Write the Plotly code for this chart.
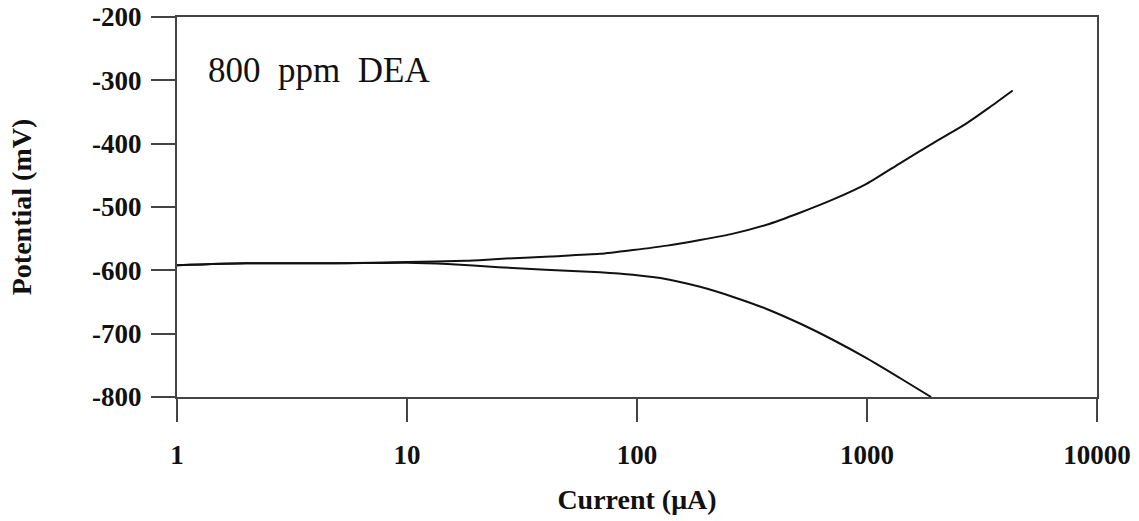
import plotly.graph_objects as go

# Anodic (upper) branch
anodic_current = [1, 2, 5, 10, 18, 25, 42, 69, 96, 135, 188, 262, 366, 511, 713, 1000, 1390, 1940, 2710, 3400, 4300]
anodic_potential = [-592, -589, -589, -587, -585, -582, -578, -574, -568, -561, -552, -542, -528, -509, -488, -463, -431, -399, -368, -343, -316]

# Cathodic (lower) branch
cathodic_current = [1, 2, 5, 10, 15, 25, 40, 69, 96, 135, 188, 262, 366, 511, 713, 1000, 1390, 1900]
cathodic_potential = [-592, -589, -589, -588, -590, -595, -599, -603, -607, -614, -626, -642, -661, -684, -710, -739, -770, -800]

x_ticks = [1, 10, 100, 1000, 10000]
x_tick_labels = ["1", "10", "100", "1000", "10000"]
y_ticks = [-800, -700, -600, -500, -400, -300, -200]
y_tick_labels = ["-800", "-700", "-600", "-500", "-400", "-300", "-200"]

label_text = "800\u00a0\u00a0ppm\u00a0\u00a0DEA"

fig = go.Figure()
fig.add_trace(go.Scatter(x=anodic_current, y=anodic_potential, mode="lines",
                         line=dict(color="#111111", width=2, shape="spline", smoothing=0.6),
                         showlegend=False))
fig.add_trace(go.Scatter(x=cathodic_current, y=cathodic_potential, mode="lines",
                         line=dict(color="#111111", width=2, shape="spline", smoothing=0.6),
                         showlegend=False))

serif = "Liberation Serif, Times New Roman, serif"
axis_color = "#444444"

fig.update_layout(
    width=1139, height=521,
    margin=dict(l=177, r=42, t=17, b=124),
    paper_bgcolor="white", plot_bgcolor="white",
    font=dict(family=serif, color="#111111"),
    xaxis=dict(
        type="log", range=[0, 4], automargin=False,
        tickvals=x_ticks, ticktext=x_tick_labels,
        ticks="outside", ticklen=23, tickwidth=2, tickcolor=axis_color,
        ticklabelstandoff=10, ticklabeloverflow="allow",
        showline=True, linecolor=axis_color, linewidth=2, mirror=True,
        showgrid=False, zeroline=False,
        tickfont=dict(family=serif, size=27, color="#111111", weight="bold"),
        title=dict(text="<b>Current (μA)</b>", font=dict(family=serif, size=28, color="#111111"), standoff=20),
    ),
    yaxis=dict(
        range=[-800, -200], automargin=False,
        tickvals=y_ticks, ticktext=y_tick_labels,
        ticks="outside", ticklen=24, tickwidth=2, tickcolor=axis_color,
        ticklabelstandoff=4, ticklabeloverflow="allow",
        showline=True, linecolor=axis_color, linewidth=2, mirror=True,
        showgrid=False, zeroline=False,
        tickfont=dict(family=serif, size=27, color="#111111", weight="bold"),
        title=dict(text="<b>Potential (mV)</b>", font=dict(family=serif, size=28, color="#111111"), standoff=52),
    ),
    annotations=[dict(
        text=label_text, xref="paper", yref="paper", x=0.031, y=0.86,
        xanchor="left", yanchor="middle", showarrow=False,
        font=dict(family=serif, size=35, color="#111111"),
    )],
)

# remove the browser's default 8px body margin so the figure fills the window exactly
fig.write_html("out.html", config={"displayModeBar": False},
               post_script="document.body.style.margin='0';")
